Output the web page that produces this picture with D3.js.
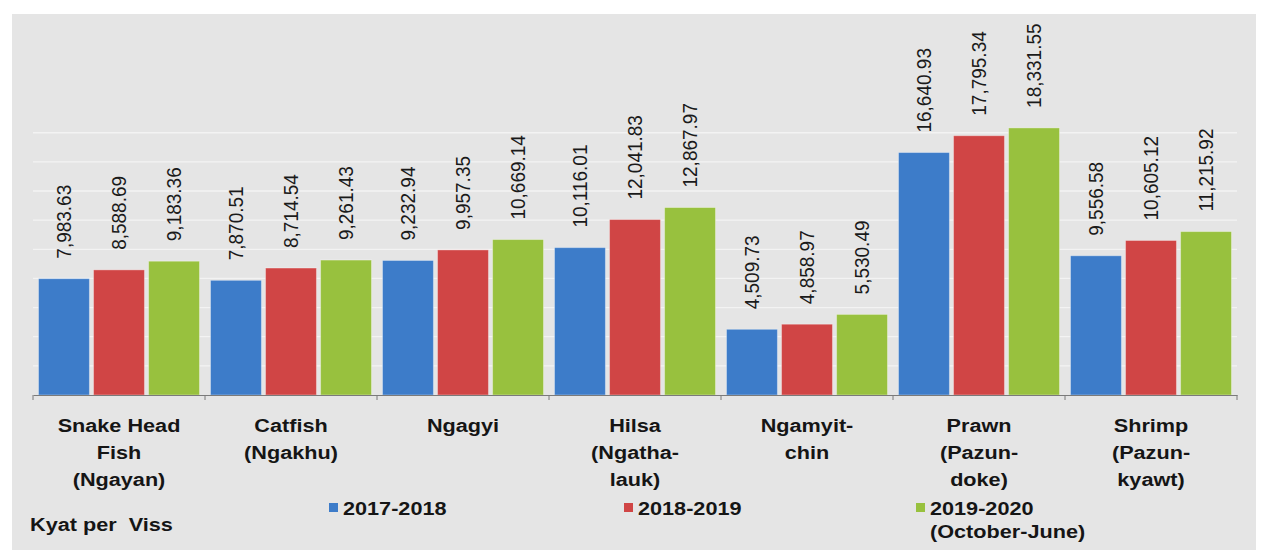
<!DOCTYPE html>
<html>
<head>
<meta charset="utf-8">
<script src="https://cdn.jsdelivr.net/npm/d3@7"></script>
<style>
  html, body { margin: 0; padding: 0; background: #ffffff; }
  svg { display: block; font-family: "Liberation Sans", Arial, sans-serif; }
</style>
</head>
<body>
<svg id="chart" width="1263" height="550"></svg>
<script>
// Fish prices, Kyat per Viss
const categories = [
  ["Snake Head", "Fish", "(Ngayan)"],
  ["Catfish", "(Ngakhu)"],
  ["Ngagyi"],
  ["Hilsa", "(Ngatha-", "lauk)"],
  ["Ngamyit-", "chin"],
  ["Prawn", "(Pazun-", "doke)"],
  ["Shrimp", "(Pazun-", "kyawt)"]
];
const seriesNames = ["2017-2018", "2018-2019", "2019-2020"];
const legendLabels = [["2017-2018"], ["2018-2019"], ["2019-2020", "(October-June)"]];
const values2017 = [7983.63, 7870.51, 9232.94, 10116.01, 4509.73, 16640.93, 9556.58];
const values2018 = [8588.69, 8714.54, 9957.35, 12041.83, 4858.97, 17795.34, 10605.12];
const values2019 = [9183.36, 9261.43, 10669.14, 12867.97, 5530.49, 18331.55, 11215.92];
const gridTicks = [2000, 4000, 6000, 8000, 10000, 12000, 14000, 16000, 18000];
const unitLabel = "Kyat per  Viss";
const colors = ["#3d7cc9", "#d04545", "#98c13e"];

const series = [values2017, values2018, values2019];
const svg = d3.select("#chart");
const stretch = 1.14;   // wide lettering

// panel background
svg.append("rect")
  .attr("x", 12).attr("y", 14)
  .attr("width", 1244).attr("height", 536)
  .attr("fill", "#e5e5e5");

const margin = { left: 33, right: 1237, baseline: 395 };
const x0 = d3.scaleBand()
  .domain(d3.range(categories.length))
  .range([margin.left, margin.right])
  .paddingInner(0).paddingOuter(0);
const x1 = d3.scaleBand()
  .domain(d3.range(seriesNames.length))
  .range([0, x0.bandwidth()])
  .paddingInner(0.075).paddingOuter(0.1);
const y = d3.scaleLinear()
  .domain([0, 20000])
  .range([margin.baseline, margin.baseline - 291.4]);

// horizontal gridlines
svg.append("g")
  .selectAll("line")
  .data(gridTicks)
  .join("line")
  .attr("x1", margin.left).attr("x2", margin.right)
  .attr("y1", d => y(d)).attr("y2", d => y(d))
  .attr("stroke", "#ffffff")
  .attr("stroke-opacity", 0.55)
  .attr("stroke-width", 1.3);

// bars
const groups = svg.append("g")
  .selectAll("g")
  .data(categories.map((c, i) => i))
  .join("g")
  .attr("transform", i => `translate(${x0(i)},0)`);

groups.selectAll("rect")
  .data(i => series.map((s, k) => ({ k, v: s[i] })))
  .join("rect")
  .attr("x", d => x1(d.k))
  .attr("width", x1.bandwidth())
  .attr("y", d => y(d.v))
  .attr("height", d => y(0) - y(d.v))
  .attr("fill", d => colors[d.k])
  .attr("stroke", "#ffffff")
  .attr("stroke-opacity", 0.35)
  .attr("stroke-width", 1);

// value labels, rotated
const fmt = d3.format(",.2f");
groups.selectAll("text.value")
  .data(i => series.map((s, k) => ({ k, v: s[i] })))
  .join("text")
  .attr("class", "value")
  .attr("transform", d => `translate(${x1(d.k) + x1.bandwidth() / 2},${y(d.v) - 20}) scale(1.08,1) rotate(-90)`)
  .attr("dy", "0.36em")
  .attr("font-size", 19)
  .attr("fill", "#1a1a1a")
  .text(d => fmt(d.v));

// category axis
const axis = d3.axisBottom(x0).tickSize(0).tickFormat("");
const axisG = svg.append("g")
  .attr("transform", `translate(0,${margin.baseline})`)
  .call(axis);
axisG.select(".domain").attr("stroke", "#7a7a7a").attr("stroke-width", 1.2);
axisG.selectAll(".tick").remove();
axisG.selectAll("line.sep")
  .data(d3.range(categories.length + 1))
  .join("line")
  .attr("class", "sep")
  .attr("x1", i => i < categories.length ? x0(i) : margin.right)
  .attr("x2", i => i < categories.length ? x0(i) : margin.right)
  .attr("y1", 0).attr("y2", 5)
  .attr("stroke", "#7a7a7a");

// category labels
const catLabels = svg.append("g")
  .selectAll("text")
  .data(categories)
  .join("text")
  .attr("transform", (c, i) => `translate(${x0(i) + x0.bandwidth() / 2},432) scale(${stretch},1)`)
  .attr("text-anchor", "middle")
  .attr("font-size", 19)
  .attr("font-weight", "bold")
  .attr("fill", "#151515");
catLabels.selectAll("tspan")
  .data(c => c)
  .join("tspan")
  .attr("x", 0)
  .attr("dy", (d, j) => j === 0 ? 0 : 27)
  .text(d => d);

// legend
const legendX = [329, 624, 916];
const legend = svg.append("g")
  .selectAll("g")
  .data(legendLabels)
  .join("g")
  .attr("transform", (d, i) => `translate(${legendX[i]},0)`);
legend.append("rect")
  .attr("x", 0).attr("y", 503)
  .attr("width", 9).attr("height", 9)
  .attr("fill", (d, i) => colors[i]);
const legText = legend.append("text")
  .attr("transform", `translate(14,515) scale(${stretch},1)`)
  .attr("font-size", 19)
  .attr("font-weight", "bold")
  .attr("fill", "#151515");
legText.selectAll("tspan")
  .data(d => d)
  .join("tspan")
  .attr("x", 0)
  .attr("dy", (d, j) => j === 0 ? 0 : 23)
  .text(d => d);

// unit caption
svg.append("text")
  .attr("transform", `translate(30,531) scale(${stretch},1)`)
  .attr("font-size", 19)
  .attr("font-weight", "bold")
  .attr("fill", "#151515")
  .attr("xml:space", "preserve")
  .style("white-space", "pre")
  .text(unitLabel);
</script>
</body>
</html>
